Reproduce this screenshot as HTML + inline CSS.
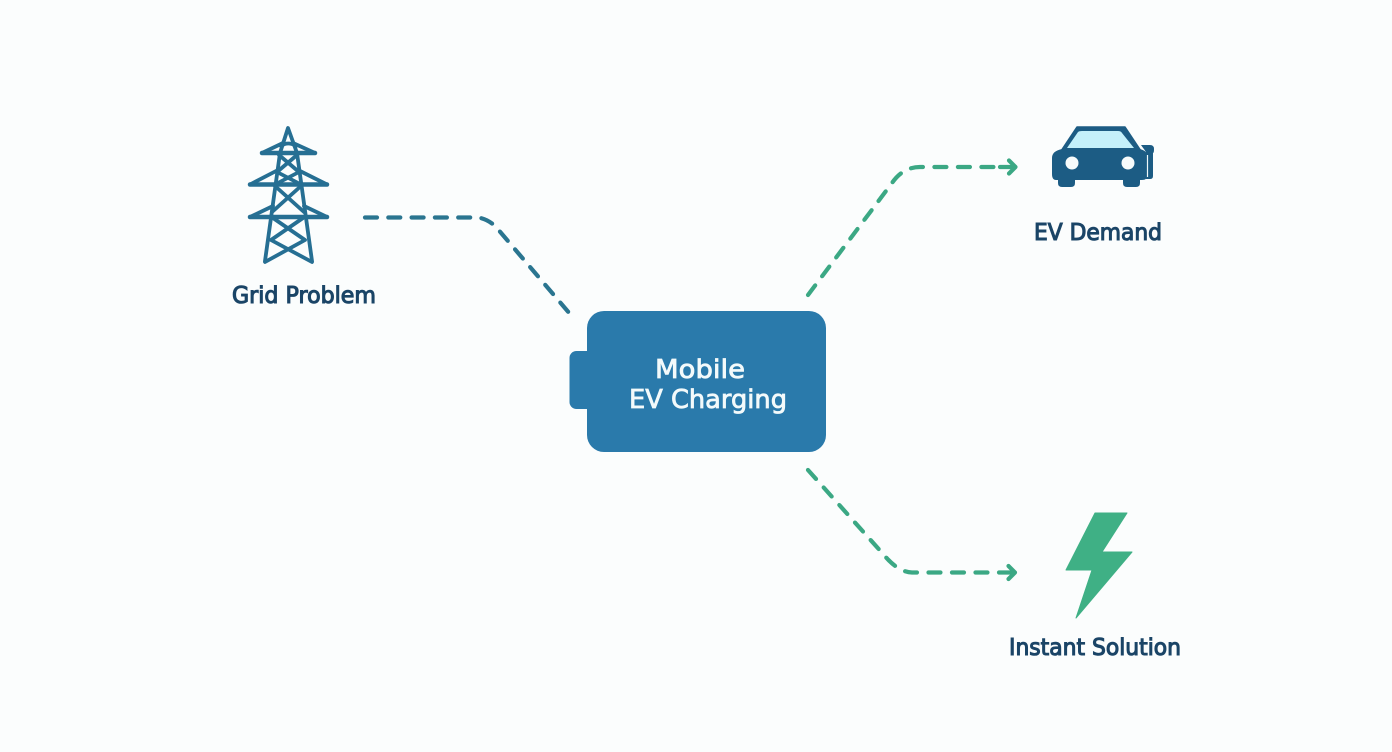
<!DOCTYPE html>
<html>
<head>
<meta charset="utf-8">
<style>
html,body{margin:0;padding:0;background:#fbfdfd;width:1392px;height:752px;overflow:hidden}
svg{display:block}
text{font-family:"DejaVu Sans","Liberation Sans",sans-serif}
</style>
</head>
<body>
<svg width="1392" height="752" viewBox="0 0 1392 752" xmlns="http://www.w3.org/2000/svg">
<rect width="1392" height="752" fill="#fbfdfd"/>

<!-- Connectors -->
<g fill="none" stroke-linecap="round" stroke-linejoin="round" stroke-width="4.200">
<path d="M365 217.500 H478 Q488 219 496 227 L570 314" stroke="#2a7590" stroke-dasharray="12 11.300"/>
<path d="M808 295 L892 183 Q903 167 920 167 H1003" stroke="#3ba884" stroke-dasharray="12 11.500"/>
<path d="M1000 167 H1014" stroke="#3ba884"/>
<path d="M1009 160.500 L1015.500 167 L1009 173.500" stroke="#3ba884"/>
<path d="M808 470 L884 555 Q898 572 912 572.500 H992" stroke="#3ba884" stroke-dasharray="12 11.500"/>
<path d="M999 572.500 H1014" stroke="#3ba884"/>
<path d="M1008.500 566 L1015 572.500 L1008.500 579" stroke="#3ba884"/>
</g>

<!-- Tower -->
<g fill="none" stroke="#266f93" stroke-width="3.800" stroke-linecap="round" stroke-linejoin="round">
<path d="M265 261 L280 153 L288 128 L297 153 L312 261"/>
<path d="M262 153 H315" stroke-width="4.500"/>
<path d="M262 153 L283 143 M315 153 L293 143 M281 146 Q288 141 296 146"/>
<path d="M250 184.500 H327" stroke-width="4.500"/>
<path d="M250 184.500 L278 170 M327 184.500 L298 170"/>
<path d="M250 217 H327" stroke-width="4.500"/>
<path d="M250 217 L273 206 M327 217 L304 206"/>
<path d="M279 155 L299 172 L276 184 M297 155 L277 172 L300 184"/>
<path d="M275 186 L304 212 M301 186 L272 212"/>
<path d="M273 218 L305 240 L265 262 M303 218 L271 240 L312 262"/>
</g>

<!-- Battery -->
<rect x="569.500" y="351" width="30" height="58" rx="7" fill="#2a7aab"/>
<rect x="587" y="311" width="239" height="141" rx="17" fill="#2a7aab"/>
<g fill="#f3fafb" stroke="#f3fafb" stroke-width="0.800" font-size="26">
<text x="655" y="378" textLength="90" lengthAdjust="spacingAndGlyphs">Mobile</text>
<text x="629" y="408" textLength="158" lengthAdjust="spacingAndGlyphs">EV Charging</text>
</g>

<!-- Car -->
<path d="M1077 127 H1125 L1141 151 H1061 Z" fill="#1c5c84" stroke="#1c5c84" stroke-width="1.500" stroke-linejoin="round"/>
<path d="M1067 148 L1078 132 Q1079 131 1082 131 H1118 Q1121 131 1122 133 L1134 148 Z" fill="#c4f0fa"/>
<path d="M1062 149 H1140 Q1148 151 1148 158 V174 Q1148 180 1142 180 H1140 V183 Q1140 187 1136 187 H1127 Q1123 187 1123 183 V180 H1075 V183 Q1075 187 1071 187 H1062 Q1058 187 1058 183 V180 H1056 Q1052 180 1052 174 V158 Q1052 151 1062 149 Z" fill="#1c5c84"/>
<circle cx="1072" cy="163" r="6.500" fill="#f7fbfb"/>
<circle cx="1128" cy="163" r="6.500" fill="#f7fbfb"/>
<path d="M1141 145 H1150 Q1154 145 1154 149 Q1154 153 1153 153 V176 Q1153 179 1150 179 H1146 V152 Z" fill="#1c5c84"/>
<path d="M1147.500 155 V177" stroke="#eef7f9" stroke-width="1.200"/>

<!-- Bolt -->
<path d="M1095 513 H1127 L1102 552 H1132 L1076 618 L1092 570 H1066 Z" fill="#3fb085" stroke="#3fb085" stroke-width="1" stroke-linejoin="round"/>

<!-- Labels -->
<g font-size="23" fill="#1b4567" stroke="#1b4567" stroke-width="1.100">
<text x="232" y="303" textLength="144" lengthAdjust="spacingAndGlyphs">Grid Problem</text>
<text x="1034" y="240" textLength="128" lengthAdjust="spacingAndGlyphs">EV Demand</text>
<text x="1009" y="655" textLength="172" lengthAdjust="spacingAndGlyphs">Instant Solution</text>
</g>
</svg>
</body>
</html>
